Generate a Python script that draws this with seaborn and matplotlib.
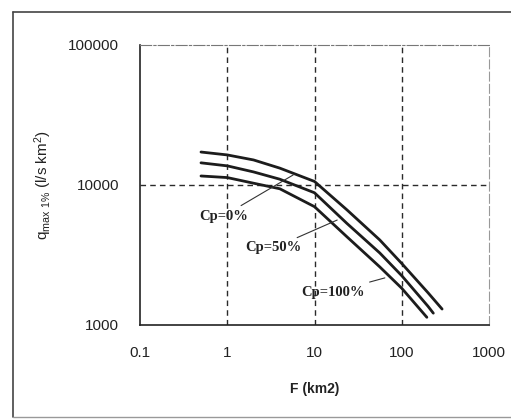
import numpy as np
import pandas as pd
import seaborn as sns
import matplotlib.pyplot as plt
from matplotlib.lines import Line2D

# values
F_cp0 = [0.5, 1, 2, 4, 10, 23.5, 56, 100, 200, 290]
q_cp0 = [17200, 16400, 15100, 13200, 10600, 6650, 4050, 2750, 1700, 1300]
F_cp50 = [0.5, 1, 2, 4, 10, 23.5, 56, 100, 200, 230]
q_cp50 = [14400, 13700, 12400, 11000, 8800, 5320, 3270, 2250, 1360, 1215]
F_cp100 = [0.5, 1, 2, 4, 10, 23.5, 56, 100, 194]
q_cp100 = [11600, 11300, 10300, 9400, 7000, 4270, 2600, 1830, 1135]

x_ticks = [0.1, 1, 10, 100, 1000]
x_ticklabels = ["0.1", "1", "10", "100", "1000"]
y_ticks = [1000, 10000, 100000]
y_ticklabels = ["1000", "10000", "100000"]

labels = ["Cp=0%", "Cp=50%", "Cp=100%"]
label_pos = [(0.9, 6000), (3.4, 3550), (16.4, 1720)]
label_tip = [(5.7, 11800), (18.2, 5620), (64, 2170)]

df = pd.concat([
    pd.DataFrame({"F": F_cp0, "q": q_cp0, "Cp": labels[0]}),
    pd.DataFrame({"F": F_cp50, "q": q_cp50, "Cp": labels[1]}),
    pd.DataFrame({"F": F_cp100, "q": q_cp100, "Cp": labels[2]}),
])

sns.set_style("white")
plt.rcParams['font.family'] = ['Liberation Sans', 'DejaVu Sans']
plt.rcParams['mathtext.default'] = 'regular'

fig = plt.figure(figsize=(5.11, 4.2), dpi=100)
ax = fig.add_axes([140/511, 1-325/420, (489-140)/511, (325-45)/420])

sns.lineplot(data=df, x="F", y="q", hue="Cp", palette=["#1c1c1c"]*3,
             linewidth=2.0, legend=False, sort=False, estimator=None, ax=ax)

ax.set_xscale("log")
ax.set_yscale("log")
ax.set_xlim(0.1, 1000)
ax.set_ylim(1000, 100000)
ax.set_xticks(x_ticks)
ax.set_xticklabels(x_ticklabels, fontsize=11, color="#222")
ax.set_yticks(y_ticks)
ax.set_yticklabels(y_ticklabels, fontsize=11, color="#222")
ax.minorticks_off()
ax.tick_params(axis="both", direction="inout", length=6, width=1, color="#333")
ax.tick_params(axis="x", pad=12)
ax.tick_params(axis="y", pad=12)

for v in x_ticks[1:-1]:
    ax.axvline(v, color="#2a2a2a", lw=1.0, ls=(0, (4, 3)), zorder=0)
ax.axhline(10000, color="#2a2a2a", lw=1.0, ls=(0, (4, 3)), zorder=0)

ax.spines["left"].set_color("#222")
ax.spines["bottom"].set_color("#222")
ax.spines["left"].set_linewidth(1.2)
ax.spines["bottom"].set_linewidth(1.2)
ax.spines["top"].set_color("#777")
ax.spines["top"].set_linestyle((0, (10, 2, 2, 2)))
ax.spines["right"].set_color("#999")
ax.spines["right"].set_linestyle((0, (8, 3)))

for lab, pos, tip in zip(labels, label_pos, label_tip):
    ax.annotate(lab, xy=tip, xytext=pos, ha="center", va="center",
                fontsize=10.5, fontweight="bold", family="Liberation Serif",
                color="#222",
                arrowprops=dict(arrowstyle="-", color="#333", lw=0.8,
                                shrinkA=1, shrinkB=0))

ax.set_xlabel("F (km2)", fontsize=10, fontweight="bold", color="#222", labelpad=16)
ax.set_ylabel(r"q$_{max\ 1\%}$ (l/s km$^{2}$)", fontsize=11, color="#222", labelpad=10)

# scanned page frame (top, left, bottom)
x0, x1 = 13/511, 511/511
y0, y1 = 1-417/420, 1-12/420
fig.add_artist(Line2D([x0, x1], [y1, y1], transform=fig.transFigure, color="#444", lw=1.2))
fig.add_artist(Line2D([x0, x0], [y0, y1], transform=fig.transFigure, color="#444", lw=1.2))
fig.add_artist(Line2D([x0, x1], [y0, y0], transform=fig.transFigure, color="#999", lw=1.0))

fig.savefig("out.png", dpi=100)
